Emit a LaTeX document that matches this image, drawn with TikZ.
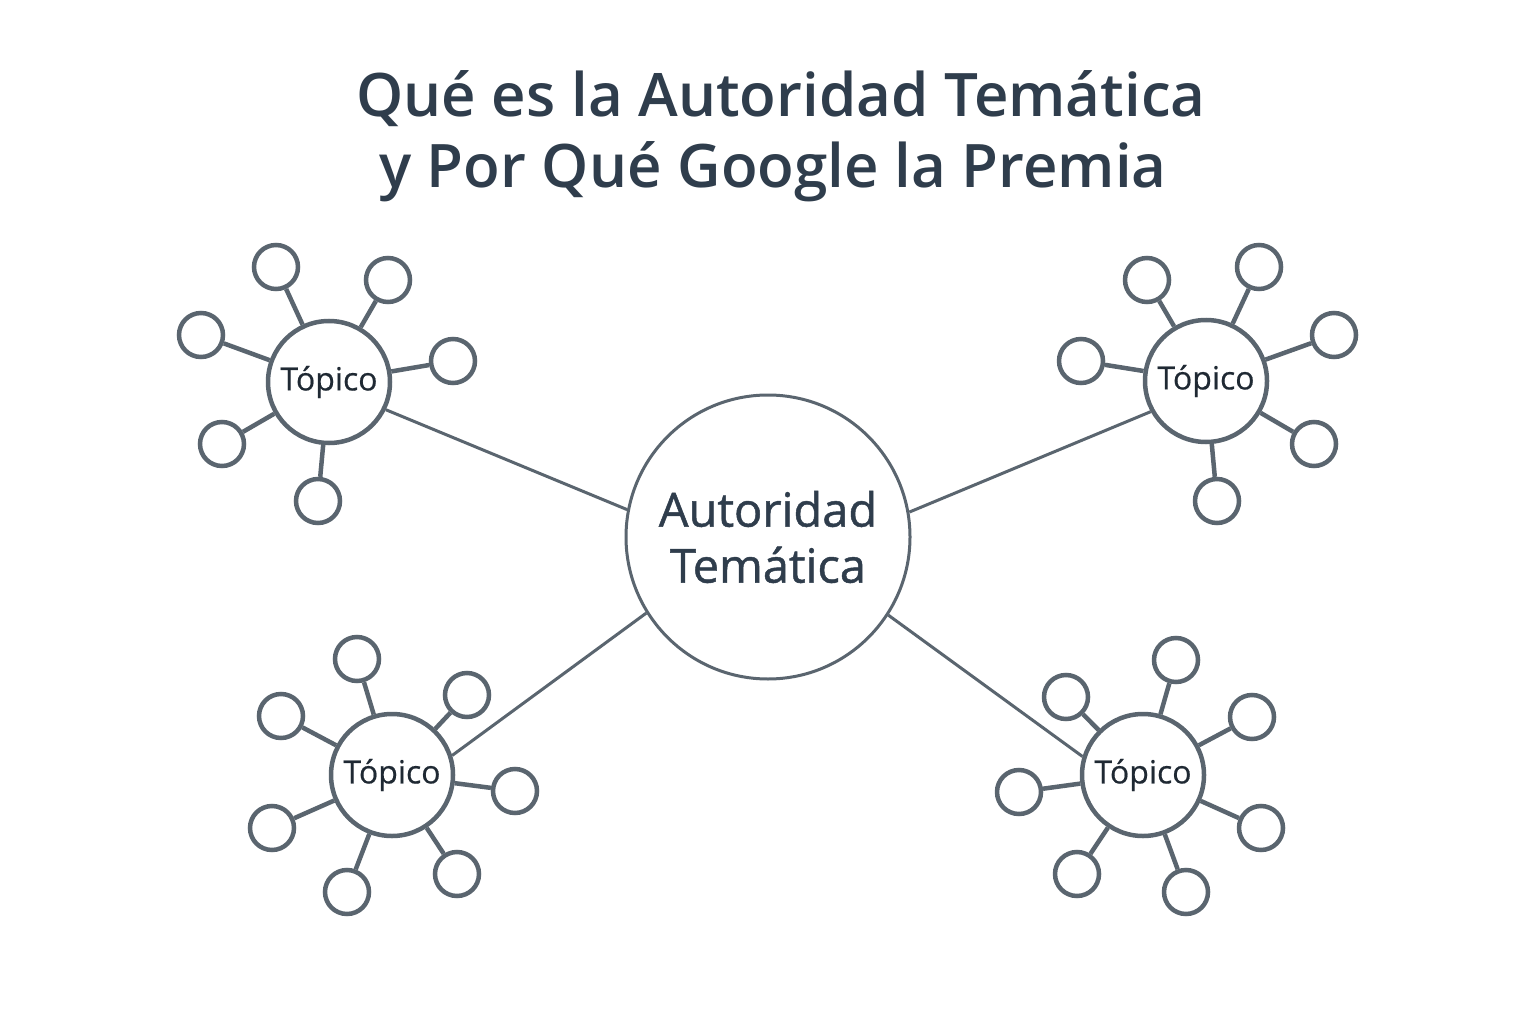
\documentclass[tikz,border=0pt]{standalone}
\usepackage{fontspec}
\setmainfont{Open Sans}
\IfFontExistsTF{Open Sans SemiBold}{\newfontfamily\titlefont{Open Sans SemiBold}}{%
  \IfFontExistsTF{Open Sans Semibold}{\newfontfamily\titlefont{Open Sans Semibold}}{%
    \newfontfamily\titlefont{Open Sans}[FakeBold=1.2]}}
\newfontfamily\hubfont{Open Sans}[FakeBold=1.0]
\newfontfamily\topicfont{Open Sans}[FakeBold=0.5]
\definecolor{edgecol}{HTML}{5A656F}
\definecolor{titlecol}{HTML}{2F3D4C}
\definecolor{txtcol}{HTML}{1F2933}
\tikzset{
  hub/.style={circle, draw=edgecol, line width=3pt, minimum size=284pt, inner sep=0pt,
    align=center, text=titlecol, font=\hubfont\fontsize{47}{56}\selectfont},
  topicnode/.style={circle, draw=edgecol, line width=4.5pt, minimum size=122pt, inner sep=0pt,
    text=txtcol, font=\topicfont\fontsize{32}{38}\selectfont},
  sat/.style={circle, draw=edgecol, line width=4.5pt, minimum size=44pt, inner sep=0pt},
  link/.style={draw=edgecol, line width=4.5pt},
  hublink/.style={draw=edgecol, line width=3pt},
  titletext/.style={anchor=base, text=titlecol, inner sep=0pt, font=\titlefont\fontsize{60}{72}\selectfont}
}
\begin{document}
\begin{tikzpicture}[x=1pt,y=-1pt]
\useasboundingbox[fill=white] (0,0) rectangle (1536,1024);
% title
\node[titletext] (t1) at (781,117) {Qué es la Autoridad Temática};
\node[titletext] (t2) at (773,188) {y Por Qué Google la Premia};
% hub
\node[hub] (hub) at (768,537) {Autoridad\\Temática};
% topics
\node[topicnode] (tl) at (329,382) {Tópico};
\node[topicnode] (tr) at (1206,381) {Tópico};
\node[topicnode] (bl) at (392,775) {Tópico};
\node[topicnode] (br) at (1143,775) {Tópico};
% hub links
\draw[hublink] (hub.169) -- (tl.-26);
\draw[hublink] (hub.10) -- (tr.209);
\draw[hublink] (hub.212) -- (bl.18);
\draw[hublink] (hub.-33) -- (br.163);
% satellites top-left
\foreach \n/\x/\y in {a/276/267, b/388/280, c/201/335, d/453/361, e/222/444, f/318/501}{
  \node[sat] (tl\n) at (\x,\y) {};
  \draw[link] (tl) -- (tl\n);
}
% satellites top-right
\foreach \n/\x/\y in {a/1147/280, b/1259/267, c/1081/361, d/1334/335, e/1314/444, f/1217/501}{
  \node[sat] (tr\n) at (\x,\y) {};
  \draw[link] (tr) -- (tr\n);
}
% satellites bottom-left
\foreach \n/\x/\y in {a/357/659, b/467/695, c/281/716, d/515/791, e/272/828, f/457/874, g/347/892}{
  \node[sat] (bl\n) at (\x,\y) {};
  \draw[link] (bl) -- (bl\n);
}
% satellites bottom-right
\foreach \n/\x/\y in {a/1176/660, b/1066/697, c/1252/717, d/1019/792, e/1261/828, f/1077/874, g/1186/892}{
  \node[sat] (br\n) at (\x,\y) {};
  \draw[link] (br) -- (br\n);
}
\end{tikzpicture}
\end{document}
